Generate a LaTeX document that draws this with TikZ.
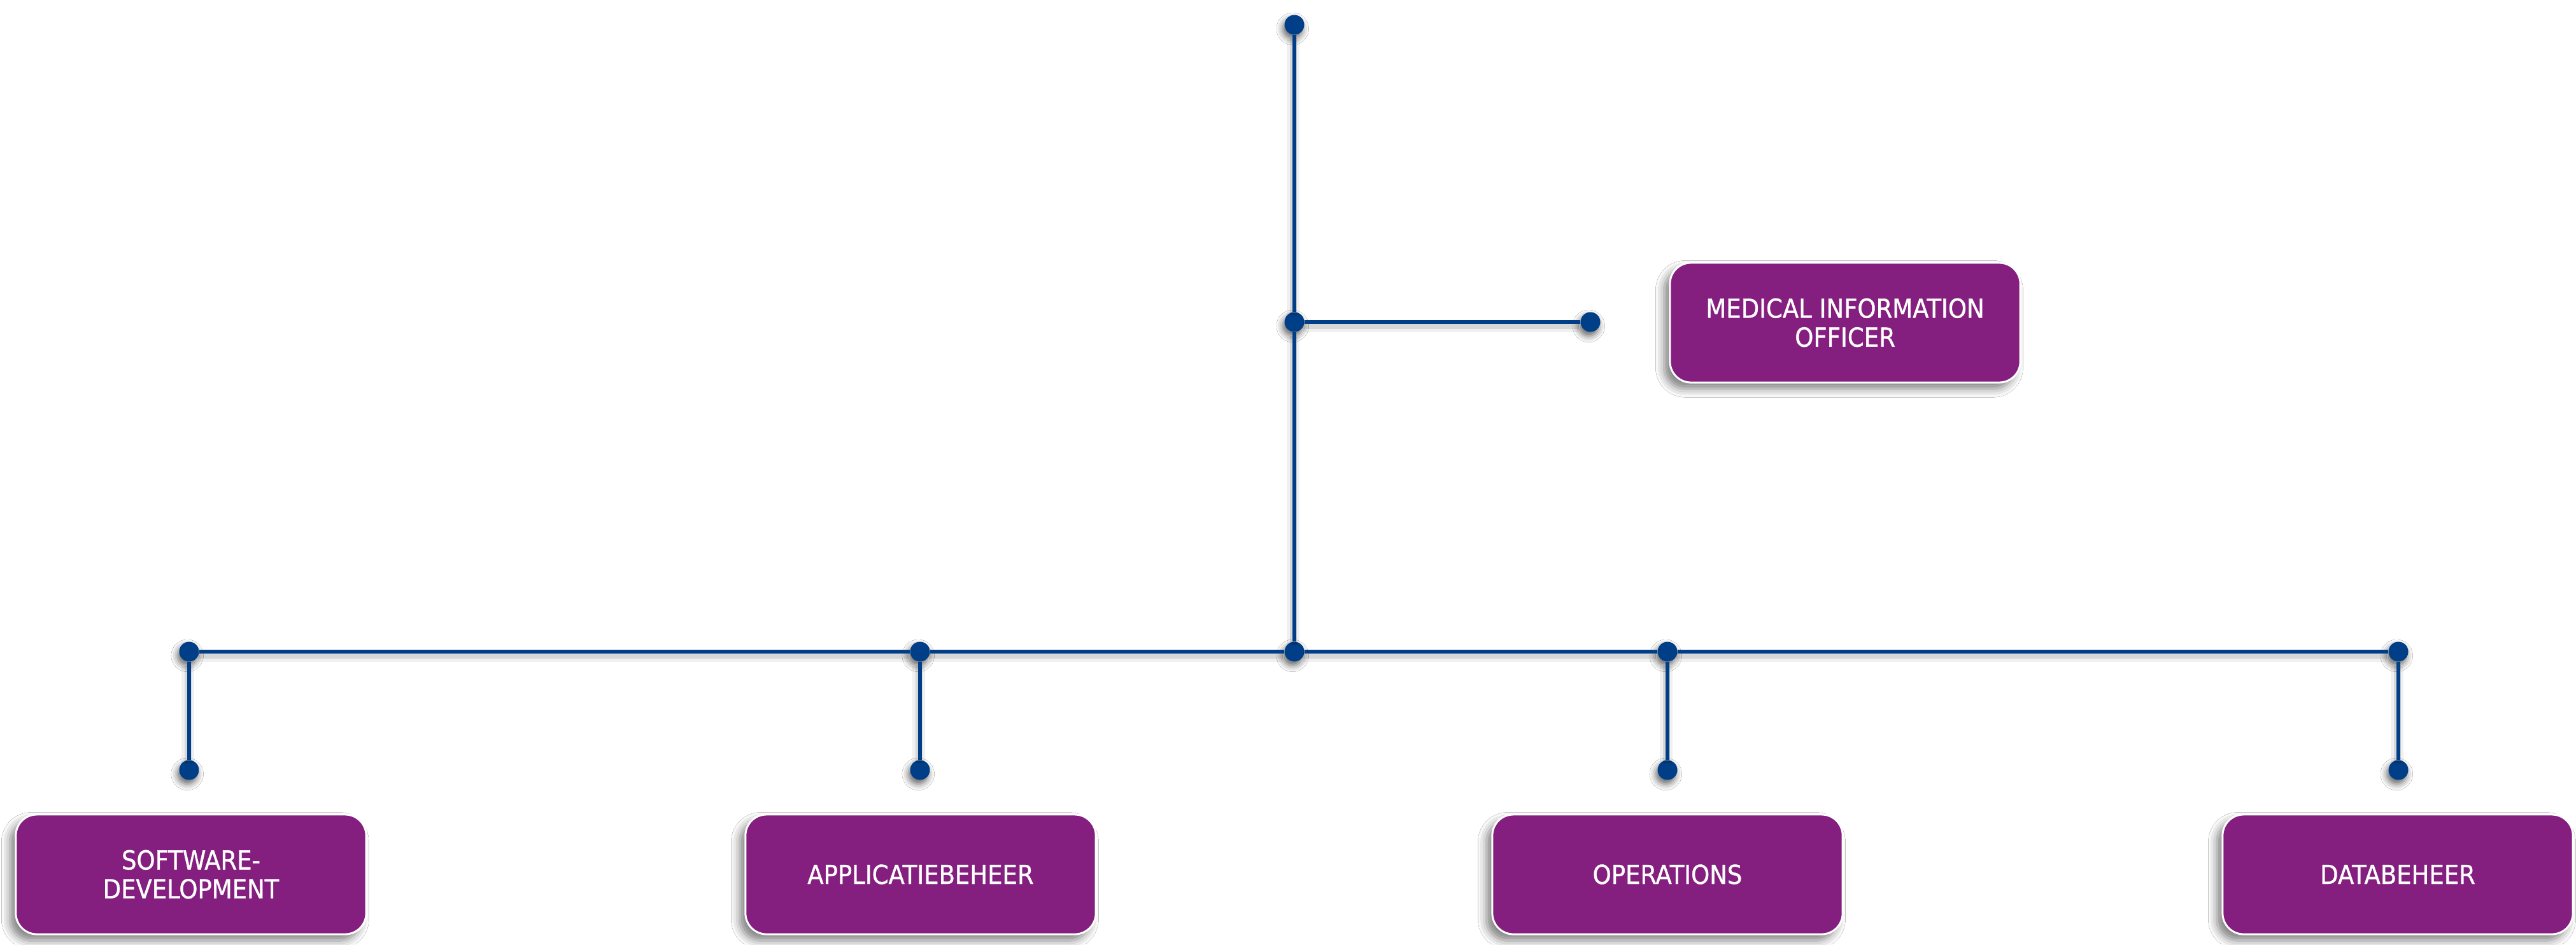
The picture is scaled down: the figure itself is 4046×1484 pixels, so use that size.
\documentclass[tikz,border=0pt]{standalone}
\usepackage{fontspec}
\newfontfamily\boxfont[FakeBold=0.9]{DejaVu Sans Condensed}
\usetikzlibrary{shadows.blur}
\definecolor{boxpurple}{RGB}{132,31,128}
\definecolor{lineblue}{RGB}{0,63,135}
\tikzset{
  orgbox/.style={rectangle, rounded corners=0.33cm, fill=boxpurple, draw=white,
    line width=0.85pt, text=white, minimum width=5.5cm, minimum height=1.88cm,
    align=center, inner sep=0pt,
    font=\boxfont\fontsize{11.7pt}{12.9pt}\selectfont,
    blur shadow={shadow xshift=-2.6pt, shadow yshift=-2.8pt, shadow blur radius=3.8pt, shadow opacity=50}},
  dot/.style={circle, fill=lineblue, minimum size=0.31cm, inner sep=0pt,
    blur shadow={shadow xshift=-0.8pt, shadow yshift=-1.8pt, shadow blur radius=2.8pt, shadow opacity=60}},
  conn/.style={draw=lineblue, line width=1.65pt,
    preaction={draw=black, opacity=0.06, line width=5.5pt, transform canvas={xshift=-0.6pt, yshift=-1.9pt}},
    preaction={draw=black, opacity=0.10, line width=3pt, transform canvas={xshift=-0.5pt, yshift=-1.5pt}}}
}
\begin{document}
\begin{tikzpicture}[x=0.01cm, y=-0.01cm]
\useasboundingbox[fill=white] (0,0) rectangle (4046,1484);
% dots
\node[dot] (top) at (2033,39) {};
\node[dot] (mid) at (2033,506) {};
\node[dot] (mioend) at (2498,506) {};
\node[dot] (b1) at (297,1024) {};
\node[dot] (b2) at (1445,1024) {};
\node[dot] (b3) at (2033,1024) {};
\node[dot] (b4) at (2619,1024) {};
\node[dot] (b5) at (3767,1024) {};
\node[dot] (d1) at (297,1210) {};
\node[dot] (d2) at (1445,1210) {};
\node[dot] (d4) at (2619,1210) {};
\node[dot] (d5) at (3767,1210) {};
% boxes
\node[orgbox] (mio) at (2898,507) {MEDICAL INFORMATION\\OFFICER};
\node[orgbox] (sw) at (300,1374) {SOFTWARE-\\DEVELOPMENT};
\node[orgbox] (app) at (1446,1374) {APPLICATIEBEHEER};
\node[orgbox] (ops) at (2619,1374) {OPERATIONS};
\node[orgbox] (db) at (3766,1374) {DATABEHEER};
% connectors
\draw[conn] (top) -- (mid);
\draw[conn] (mid) -- (b3);
\draw[conn] (mid) -- (mioend);
\draw[conn] (b1) -- (b2);
\draw[conn] (b2) -- (b3);
\draw[conn] (b3) -- (b4);
\draw[conn] (b4) -- (b5);
\draw[conn] (b1) -- (d1);
\draw[conn] (b2) -- (d2);
\draw[conn] (b4) -- (d4);
\draw[conn] (b5) -- (d5);
\end{tikzpicture}
\end{document}
